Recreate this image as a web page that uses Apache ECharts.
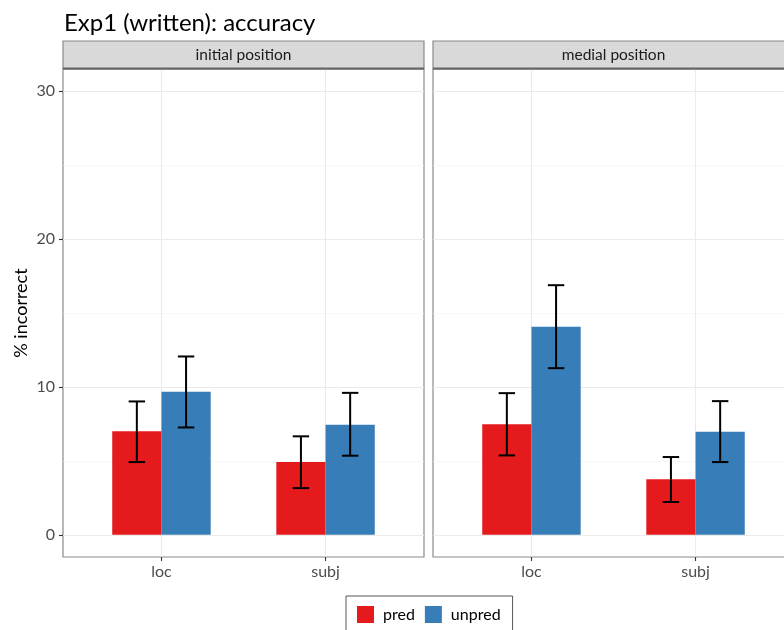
<!DOCTYPE html>
<html>
<head>
<meta charset="utf-8">
<script src="https://cdn.jsdelivr.net/npm/echarts@6/dist/echarts.min.js"></script>
<style>html,body{margin:0;padding:0;background:#fff}#c{width:784px;height:630px}</style>
</head>
<body>
<div id="c"></div>
<script>
// ---- data ----
const categories = ['loc', 'subj'];
const panels = ['initial position', 'medial position'];
const seriesNames = ['pred', 'unpred'];
const yTicks = [0, 10, 20, 30];
const yMinorTicks = [5, 15, 25];

const predInitial = [7.0, 4.92];
const predInitialLo = [4.92, 3.16];
const predInitialHi = [9.02, 6.66];
const unpredInitial = [9.68, 7.45];
const unpredInitialLo = [7.26, 5.35];
const unpredInitialHi = [12.06, 9.6];

const predMedial = [7.47, 3.75];
const predMedialLo = [5.37, 2.22];
const predMedialHi = [9.58, 5.26];
const unpredMedial = [14.07, 6.97];
const unpredMedialLo = [11.27, 4.92];
const unpredMedialHi = [16.88, 9.04];

// ---- styling ----
const colors = ['#E41A1C', '#377EB8'];
const FONT = 'Lato';
const panelLefts = [63, 433];
const panelWidth = 361;
const panelTop = 69;
const panelBottom = 630 - 557;

function build(vals, lo, hi) {
  return categories.map((c, i) => [i + 1, vals[i], lo[i], hi[i]]);
}

const panelData = [
  [build(predInitial, predInitialLo, predInitialHi), build(unpredInitial, unpredInitialLo, unpredInitialHi)],
  [build(predMedial, predMedialLo, predMedialHi), build(unpredMedial, unpredMedialLo, unpredMedialHi)]
];

function makeRender(k) {
  return function (params, api) {
    const x = api.value(0);
    const x0 = k === 0 ? x - 0.3 : x;
    const x1 = k === 0 ? x : x + 0.3;
    const xc = (x0 + x1) / 2;
    const pTopL = api.coord([x0, api.value(1)]);
    const pBotR = api.coord([x1, 0]);
    const lo = api.coord([xc, api.value(2)]);
    const hi = api.coord([xc, api.value(3)]);
    const capHalf = api.size([0.05, 0])[0];
    const es = { stroke: '#000', lineWidth: 2 };
    return {
      type: 'group',
      children: [
        { type: 'rect', shape: { x: pTopL[0], y: pTopL[1], width: pBotR[0] - pTopL[0], height: pBotR[1] - pTopL[1] },
          style: { fill: api.visual('color') } },
        { type: 'line', shape: { x1: lo[0], y1: lo[1], x2: hi[0], y2: hi[1] }, style: es },
        { type: 'line', shape: { x1: hi[0] - capHalf, y1: hi[1], x2: hi[0] + capHalf, y2: hi[1] }, style: es },
        { type: 'line', shape: { x1: lo[0] - capHalf, y1: lo[1], x2: lo[0] + capHalf, y2: lo[1] }, style: es }
      ]
    };
  };
}

const grids = [], xAxes = [], yAxes = [], series = [], graphics = [];
panels.forEach((p, pi) => {
  grids.push({ left: panelLefts[pi], top: panelTop, width: panelWidth, bottom: panelBottom,
    outerBoundsMode: 'none', containLabel: false,
    show: true, borderColor: '#8a8a8a', borderWidth: 1.2, backgroundColor: '#fff' });
  xAxes.push({ type: 'value', gridIndex: pi, min: 0.4, max: 2.6, position: 'bottom',
    axisLine: { show: false, onZero: false },
    axisTick: { show: true, length: 4, lineStyle: { color: '#333', width: 1.1 }, customValues: [1, 2] },
    axisLabel: { customValues: [1, 2], formatter: v => categories[Math.round(v) - 1] || '',
      color: '#4D4D4D', fontFamily: FONT, fontSize: 16, margin: 7 },
    splitLine: { show: true, lineStyle: { color: '#EBEBEB', width: 1.1 } }
  });
  yAxes.push({ type: 'value', gridIndex: pi, min: -1.5, max: 31.5, position: 'left',
    name: pi === 0 ? '% incorrect' : '', nameLocation: 'middle', nameRotate: 90, nameGap: 33,
    nameTextStyle: { color: '#000', fontFamily: FONT, fontSize: 18 },
    axisLine: { show: false, onZero: false },
    axisTick: { show: pi === 0, length: 4, lineStyle: { color: '#333', width: 1.1 }, customValues: yTicks },
    axisLabel: { show: pi === 0, customValues: yTicks, color: '#4D4D4D', fontFamily: FONT, fontSize: 16, margin: 8 },
    splitLine: { show: true, lineStyle: { color: '#EBEBEB', width: 1.1 } }
  });
  series.push({ type: 'custom', name: seriesNames[0], xAxisIndex: pi, yAxisIndex: yAxes.length - 1,
    itemStyle: { color: colors[0] }, renderItem: makeRender(0), data: panelData[pi][0], z: 5 });
  series.push({ type: 'custom', name: seriesNames[1], xAxisIndex: pi, yAxisIndex: yAxes.length - 1,
    itemStyle: { color: colors[1] }, renderItem: makeRender(1), data: panelData[pi][1], z: 5 });
  graphics.push({ type: 'rect', shape: { x: panelLefts[pi], y: 41, width: panelWidth, height: 28 },
    style: { fill: '#D9D9D9', stroke: '#8a8a8a', lineWidth: 1.2 }, z: 10 });
  graphics.push({ type: 'line', shape: { x1: panelLefts[pi], y1: 68.5, x2: panelLefts[pi] + panelWidth, y2: 68.5 },
    style: { stroke: '#666', lineWidth: 2 }, z: 11 });
  graphics.push({ type: 'text', x: panelLefts[pi] + panelWidth / 2, y: 55,
    style: { text: p, fill: '#1A1A1A', font: '15.5px ' + FONT, textAlign: 'center', textVerticalAlign: 'middle' }, z: 12 });
});
panels.forEach((p, pi) => {
  yAxes.push({ type: 'value', gridIndex: pi, min: -1.5, max: 31.5, position: 'left',
    axisLine: { show: false, onZero: false }, axisTick: { show: false, customValues: yMinorTicks },
    axisLabel: { show: false, customValues: yMinorTicks },
    splitLine: { show: true, lineStyle: { color: '#F2F2F2', width: 0.6 } }
  });
});

const chart = echarts.init(document.getElementById('c'), null, { renderer: 'canvas' });
chart.setOption({
  animation: false,
  backgroundColor: '#fff',
  title: { text: 'Exp1 (written): accuracy', left: 59, top: 6,
    textStyle: { color: '#000', fontFamily: FONT, fontSize: 24, fontWeight: 'normal' } },
  legend: { data: seriesNames, left: 346, top: 596, orient: 'horizontal', icon: 'rect',
    itemWidth: 17, itemHeight: 17, itemGap: 10, padding: [10, 12, 10, 11],
    borderColor: '#555', borderWidth: 1,
    textStyle: { color: '#000', fontFamily: FONT, fontSize: 16, padding: [0, 0, 0, 4] } },
  grid: grids, xAxis: xAxes, yAxis: yAxes, series: series, graphic: graphics
});
</script>
</body>
</html>
